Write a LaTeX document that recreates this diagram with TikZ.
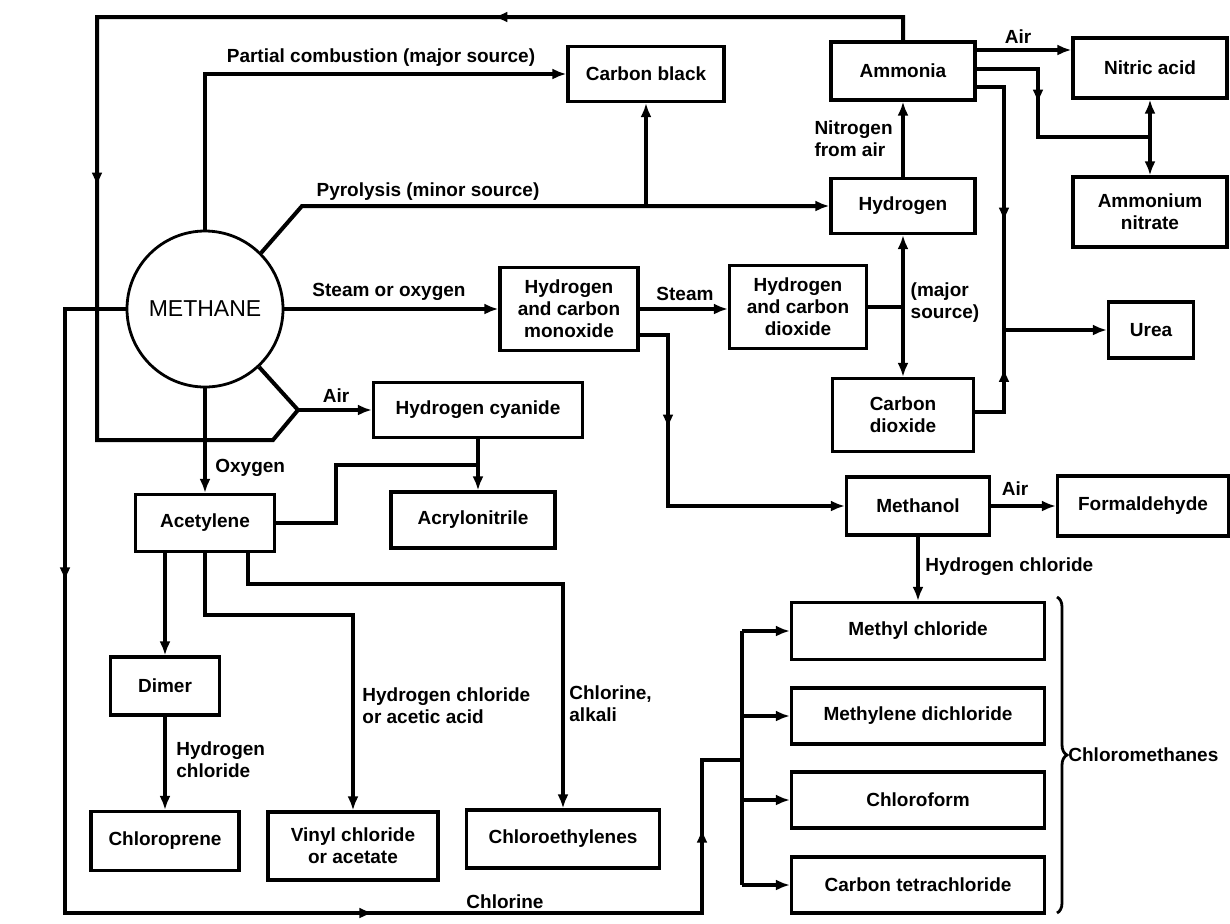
\documentclass[tikz,border=0pt]{standalone}
\usepackage{fontspec}
\setmainfont{Liberation Sans}
\usetikzlibrary{arrows.meta,decorations.markings,decorations.pathreplacing}

\begin{document}
\begin{tikzpicture}[x=0.5pt,y=-0.5pt,
	font=\fontsize{9.5}{11}\selectfont\bfseries,
	>={Latex[length=7pt,width=5.5pt]},
	prod/.style={draw,line width=1.6pt,inner sep=0pt,align=center},
	conn/.style={line width=2pt},
	lbl/.style={inner sep=0pt,align=left},
	midtip/.style={postaction={decorate,decoration={markings,mark=at position #1 with {\arrow{>}}}}}]
				\path[use as bounding box,fill=white] (0,0) rectangle (1230,923);

				\node[shape=circle,draw=black,line width=1.4pt,minimum size=78pt,inner sep=0pt,font=\fontsize{11.5}{13}\selectfont\mdseries] (methane) at (205,309) {METHANE};
				\node[prod,minimum width=78pt,minimum height=27.5pt] (cblack) at (646,74) {Carbon black};
				\node[prod,minimum width=72pt,minimum height=29pt] (ammonia) at (903,71) {Ammonia};
				\node[prod,minimum width=77pt,minimum height=30pt] (nitric) at (1150,68) {Nitric acid};
				\node[prod,minimum width=77pt,minimum height=35pt] (ammnit) at (1150,212) {Ammonium\\nitrate};
				\node[prod,minimum width=72pt,minimum height=27.5pt] (hydrogen) at (903,206) {Hydrogen};
				\node[prod,minimum width=69pt,minimum height=41.5pt] (hco) at (569,309) {Hydrogen\\and carbon\\monoxide};
				\node[prod,minimum width=68.5pt,minimum height=41.5pt] (hco2) at (798,307) {Hydrogen\\and carbon\\dioxide};
				\node[prod,minimum width=42.5pt,minimum height=28pt] (urea) at (1151,330) {Urea};
				\node[prod,minimum width=70.5pt,minimum height=36.5pt] (co2) at (903,415) {Carbon\\dioxide};
				\node[prod,minimum width=104.5pt,minimum height=27.5pt] (hcn) at (478,410) {Hydrogen cyanide};
				\node[prod,minimum width=82pt,minimum height=28pt] (acryl) at (473,520) {Acrylonitrile};
				\node[prod,minimum width=69.5pt,minimum height=28.5pt] (acet) at (205,523) {Acetylene};
				\node[prod,minimum width=71.5pt,minimum height=29pt] (methanol) at (918,506) {Methanol};
				\node[prod,minimum width=85.5pt,minimum height=30pt] (formal) at (1143,506) {Formaldehyde};
				\node[prod,minimum width=126.5pt,minimum height=28.5pt] (mecl) at (918,631) {Methyl chloride};
				\node[prod,minimum width=126.5pt,minimum height=28pt] (mecl2) at (918,716) {Methylene dichloride};
				\node[prod,minimum width=126.5pt,minimum height=28pt] (chcl3) at (918,800) {Chloroform};
				\node[prod,minimum width=126.5pt,minimum height=28pt] (ccl4) at (918,885) {Carbon tetrachloride};
				\node[prod,minimum width=54.5pt,minimum height=29pt] (dimer) at (165,686) {Dimer};
				\node[prod,minimum width=74pt,minimum height=29.5pt] (chlpren) at (165,841) {Chloroprene};
				\node[prod,minimum width=85pt,minimum height=34pt] (vinyl) at (353,846) {Vinyl chloride\\or acetate};
				\node[prod,minimum width=96.5pt,minimum height=29pt] (cleth) at (563,839) {Chloroethylenes};

				\coordinate (hsplit) at (hco2.east -| hydrogen.south);
				\coordinate (nsplit) at (1150,137);
				\coordinate (ujoin) at (1004,330);
				\coordinate (airjoin) at (298,410);
				\coordinate (acjoin) at (478,465);
				\coordinate (busjoin) at (742,760);

				\draw[conn,->] (methane.north) |- (cblack.west);
				\draw[conn,->] (methane.45) -- (302,206) -- (hydrogen.west);
				\draw[conn,->] (cblack.south |- hydrogen.west) -- (cblack.south);
				\path[conn,->] (methane.east) edge (hco.west);
				\draw[conn,->] (hco.east) -- (hco.east -| hco2.west);
				\draw[conn] (hco2.east) -- (hsplit);
				\draw[conn,->] (hsplit) -- (hydrogen.south);
				\draw[conn,->] (hsplit) -- (co2.north);
				\path[conn,->] (hydrogen.north) edge (ammonia.south);
				\draw[conn,->] ([yshift=10.5pt]ammonia.east) -- ([yshift=10.5pt]ammonia.east -| nitric.west);
				\draw[conn,midtip=48pt] ([yshift=1pt]ammonia.east) -| (1038,137) -- (nsplit);
				\draw[conn,->] (nsplit) -- (nitric.south);
				\draw[conn,->] (nsplit) -- (ammnit.north);
				\draw[conn,midtip=81pt] ([yshift=-8pt]ammonia.east) -| (ujoin);
				\draw[conn,midtip=36.5pt] ([yshift=1.5pt]co2.east) -| (ujoin);
				\draw[conn,->] (ujoin) -- (urea.west);
				\draw[conn,->,midtip=61pt] ([yshift=-13pt]hco.east) -| (668,506) -- (methanol.west);
				\path[conn,->] (methanol.east) edge (formal.west);
				\path[conn,->] (methanol.south) edge (mecl.north);

				\draw[conn,midtip=216.5pt,midtip=499.5pt] (ammonia.north) |- (97,17) -- (97,440) -- (273,440) -- (airjoin);
				\draw[conn] (methane.-47) -- (airjoin);
				\draw[conn,->] (airjoin) -- (hcn.west);
				\path[conn,->] (methane.south) edge (acet.north);
				\draw[conn,->] (hcn.south) -- (hcn.south |- acryl.north);
				\draw[conn] (acet.east) -| (336,465) -- (acjoin);
				\draw[conn,->] (acet.south -| dimer.north) -- (dimer.north);
				\draw[conn,->] (acet.south) -- (205,615) -| (vinyl.north);
				\draw[conn,->] ([xshift=21.5pt]acet.south) -- ++(0,31) -| (cleth.north);
				\path[conn,->] (dimer.south) edge (chlpren.north);

				\draw[conn,midtip=166.5pt,midtip=486.5pt,midtip=693pt] (methane.west) -- (65,309) -- (65,913) -- (702,913) -- (702,760) -- (busjoin);
				\draw[conn] (busjoin |- mecl.west) -- (busjoin |- ccl4.west);
				\foreach \m in {mecl,mecl2,chcl3,ccl4}
					\draw[conn,->] (busjoin |- \m.west) -- (\m.west);

				\draw[line width=1.4pt,decorate,decoration={brace,amplitude=5pt}] (1057,597) -- (1057,913);

				\node[lbl] (lpart) at (381,58) {Partial combustion (major source)};
				\node[lbl] (lpyro) at (428,192) {Pyrolysis (minor source)};
				\node[lbl] (lsteamox) at (389,292) {Steam or oxygen};
				\node[lbl] (lsteam) at (685,294) {Steam};
				\node[lbl,anchor=east] (lnitro) at (893,139) {Nitrogen\\from air};
				\node[lbl] (lair1) at (1018,37) {Air};
				\node[lbl] (lmajor) at (945,303) {(major\\source)};
				\node[lbl] (lair2) at (1015,489) {Air};
				\node[lbl] (lair3) at (336,396) {Air};
				\node[lbl,anchor=west] (loxy) at (215,468) {Oxygen};
				\node[lbl,anchor=west] (lhcl) at (925,567) {Hydrogen chloride};
				\node[lbl,anchor=west] (lhcl2) at (176,760) {Hydrogen\\chloride};
				\node[lbl,anchor=west] (lhcl3) at (362,706) {Hydrogen chloride\\or acetic acid};
				\node[lbl,anchor=west] (lcla) at (569,704) {Chlorine,\\alkali};
				\node[lbl] (lcl) at (505,902) {Chlorine};
				\node[lbl,anchor=west] (lchlm) at (1068,755) {Chloromethanes};
\end{tikzpicture}
\end{document}
